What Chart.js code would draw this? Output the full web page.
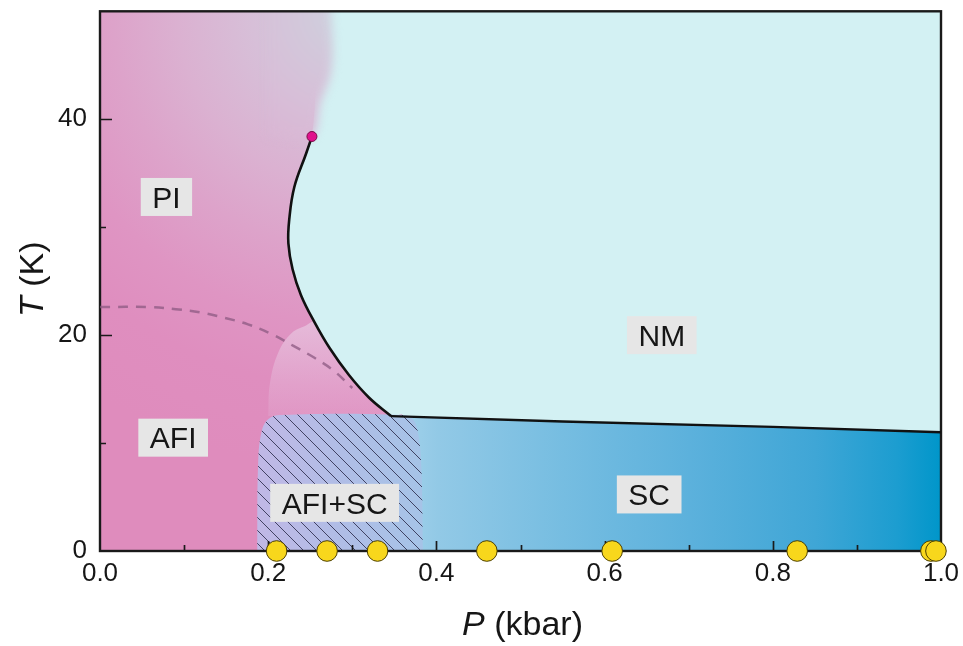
<!DOCTYPE html>
<html>
<head>
<meta charset="utf-8">
<title>P–T phase diagram</title>
<script src="https://cdn.jsdelivr.net/npm/chart.js@4/dist/chart.umd.min.js"></script>
<style>
  html, body { margin: 0; padding: 0; background: #ffffff; }
  #frame { position: relative; width: 963px; height: 646px; }
</style>
</head>
<body>
<div id="frame"><canvas id="phase" width="963" height="646"></canvas></div>
<script>
// ---- axis ranges and tick labels ----
const pLimits = [0, 1];      // pressure, kbar
const tLimits = [0, 50];     // temperature, K
const pTickLabels = ['0.0', '0.2', '0.4', '0.6', '0.8', '1.0'];
const tTickLabels = ['0', '20', '40'];

// PI / NM crossover, from the critical end point down to the Tc plateau
const crossoverP = [0.252, 0.245, 0.231, 0.225, 0.224, 0.229, 0.239, 0.255, 0.273, 0.296, 0.320, 0.346];
const crossoverT = [38.4, 36.8, 33.7, 30.7, 28.5, 26.1, 23.7, 21.2, 18.8, 16.3, 14.2, 12.5];
// diffuse upper edge of the PI region above the critical end point
const piEdgeP = [0.275, 0.275, 0.277, 0.274, 0.262];
const piEdgeT = [55, 50, 46.5, 44, 41.5];
// sharp inner edge of the PI region, hidden under the diffuse one
const piCoreP = [0.25, 0.256];
const piCoreT = [55, 44];
// critical end point
const criticalP = [0.252];
const criticalT = [38.4];
// superconducting transition Tc(P)
const tcP = [0.346, 0.55, 0.8, 1.0];
const tcT = [12.5, 12.0, 11.5, 11.0];
// AFI ordering temperature (dashed)
const neelP = [0, 0.06, 0.09, 0.12, 0.148, 0.176, 0.204, 0.23, 0.255, 0.278, 0.30];
const neelT = [22.6, 22.6, 22.4, 22.1, 21.6, 21.0, 20.1, 19.0, 17.9, 16.7, 15.1];
// AFI+SC coexistence dome
const coexP = [0.187, 0.188, 0.192, 0.2, 0.215, 0.36, 0.372, 0.378, 0.382, 0.384];
const coexT = [0, 8, 11, 12.2, 12.6, 12.6, 12.2, 11, 8, 0];
// lighter PI shoulder just above the coexistence dome
const shoulderP = [0.2, 0.202, 0.212, 0.228, 0.245];
const shoulderT = [12.5, 15.5, 18.4, 20.2, 20.9];
// pressures of the measured samples (markers on the T = 0 axis)
const sampleP = [0.21, 0.27, 0.33, 0.46, 0.609, 0.829, 0.988, 0.994];
const sampleT = [0, 0, 0, 0, 0, 0, 0, 0];
// phase names and where they sit in the diagram
const phaseNames = ['PI', 'AFI', 'AFI+SC', 'NM', 'SC'];
const phaseP = [0.079, 0.087, 0.279, 0.668, 0.653];
const phaseT = [32.8, 10.5, 4.46, 20.0, 5.24];

// ---- helpers ----
const pts = (ps, ts) => ps.map((p, i) => ({ x: p, y: ts[i] }));
const FONT = "'Liberation Sans', Arial, Helvetica, sans-serif";

const nmRegion = [
  { x: pLimits[0], y: tLimits[0] }, { x: pLimits[0], y: tLimits[1] },
  { x: pLimits[1], y: tLimits[1] }, { x: pLimits[1], y: tLimits[0] }
];
const piCoreRegion = [
  { x: pLimits[0], y: tLimits[0] }, { x: pLimits[0], y: piCoreT[0] },
  ...pts(piCoreP, piCoreT),
  ...pts(crossoverP, crossoverT),
  { x: coexP[5], y: tcT[0] }, { x: coexP[5], y: tLimits[0] }
];
const piSoftRegion = [
  { x: 0.2, y: piEdgeT[0] },
  ...pts(piEdgeP, piEdgeT),
  { x: criticalP[0], y: criticalT[0] },
  { x: 0.2, y: criticalT[0] }
];
const shoulderRegion = [
  ...pts(shoulderP, shoulderT),
  ...pts(crossoverP, crossoverT).filter(p => p.y <= 21.5)
];
const scRegion = [
  ...pts(tcP, tcT),
  { x: tcP[tcP.length - 1], y: tLimits[0] }, { x: tcP[0], y: tLimits[0] }
];
const coexRegion = pts(coexP, coexT);

// diagonal hatching for the coexistence dome
function makeHatch() {
  const s = 13;
  const c = document.createElement('canvas');
  c.width = s; c.height = s;
  const g = c.getContext('2d');
  g.strokeStyle = 'rgba(45,45,75,0.85)';
  g.lineWidth = 1;
  g.beginPath();
  g.moveTo(-2, -2); g.lineTo(s + 2, s + 2);
  g.moveTo(-2, s - 2); g.lineTo(2, s + 2);
  g.moveTo(s - 2, -2); g.lineTo(s + 2, 2);
  g.stroke();
  return g.createPattern(c, 'repeat');
}
const hatch = makeHatch();

function piFill(ctx) {
  const chart = ctx.chart;
  if (!chart.chartArea) return '#df8cbd';
  const x = chart.scales.x, y = chart.scales.y;
  const cx = x.getPixelForValue(0.3), cy = y.getPixelForValue(tLimits[1]);
  const g = chart.ctx.createRadialGradient(cx, cy, 0, cx, cy, 460);
  g.addColorStop(0.00, '#ccd4df');
  g.addColorStop(0.10, '#d2c9db');
  g.addColorStop(0.22, '#d7bfd8');
  g.addColorStop(0.38, '#dbb1d1');
  g.addColorStop(0.52, '#dda3ca');
  g.addColorStop(0.68, '#df95c3');
  g.addColorStop(0.82, '#df8ebf');
  g.addColorStop(1.00, '#df8cbd');
  return g;
}
function shoulderFill(ctx) {
  const chart = ctx.chart;
  if (!chart.chartArea) return 'rgba(240,220,238,0.4)';
  const y = chart.scales.y;
  const g = chart.ctx.createLinearGradient(0, y.getPixelForValue(21), 0, y.getPixelForValue(12.5));
  g.addColorStop(0, 'rgba(236,222,238,0.5)');
  g.addColorStop(1, 'rgba(232,205,232,0.15)');
  return g;
}
function scFill(ctx) {
  const chart = ctx.chart;
  if (!chart.chartArea) return '#5cb1dc';
  const x = chart.scales.x;
  const g = chart.ctx.createLinearGradient(x.getPixelForValue(0.35), 0, x.getPixelForValue(1.0), 0);
  g.addColorStop(0.00, '#a4d3eb');
  g.addColorStop(0.08, '#92c9e6');
  g.addColorStop(0.31, '#76bde1');
  g.addColorStop(0.54, '#5cb1dc');
  g.addColorStop(0.77, '#3fa6d6');
  g.addColorStop(0.92, '#1c9dd0');
  g.addColorStop(1.00, '#0096ca');
  return g;
}
function coexFill(ctx) {
  const chart = ctx.chart;
  if (!chart.chartArea) return '#b0bde6';
  const x = chart.scales.x;
  const g = chart.ctx.createLinearGradient(x.getPixelForValue(0.19), 0, x.getPixelForValue(0.38), 0);
  g.addColorStop(0, '#c0b8e6');
  g.addColorStop(0.5, '#b0bde6');
  g.addColorStop(1, '#a6c3e7');
  return g;
}

const region = (data, color, order, tension) => ({
  data, backgroundColor: color, borderColor: 'transparent', borderWidth: 0,
  fill: 'shape', tension, pointRadius: 0, pointHitRadius: 0, order
});

// dataset indices used by the drawing hooks below
const HATCH_INDEX = 5;
const PI_CORE_INDEX = 9;
const PI_SOFT_INDEX = 10;

// the diffuse PI edge is drawn with a blur; frame and inward ticks go on
// once the filled regions are in place
const drawingHooks = {
  id: 'drawingHooks',
  afterDatasetDraw(chart, args) {
    const ctx = chart.ctx;
    if (args.index === PI_CORE_INDEX) { ctx.filter = 'blur(5px)'; return; }
    if (args.index === PI_SOFT_INDEX) { ctx.filter = 'none'; return; }
    if (args.index !== HATCH_INDEX) return;
    const { chartArea: a, scales: { x, y } } = chart;
    ctx.save();
    ctx.strokeStyle = '#1a1a1a';
    ctx.lineWidth = 1.7;
    ctx.beginPath();
    x.ticks.forEach(t => {
      if (t.value <= x.min || t.value >= x.max) return;
      const px = Math.round(x.getPixelForValue(t.value)) + 0.5;
      const len = t.label ? 10 : 6;
      ctx.moveTo(px, a.bottom); ctx.lineTo(px, a.bottom - len);
    });
    y.ticks.forEach(t => {
      if (t.value <= y.min || t.value >= y.max) return;
      const py = Math.round(y.getPixelForValue(t.value)) + 0.5;
      const len = t.label ? 12 : 6;
      ctx.moveTo(a.left, py); ctx.lineTo(a.left + len, py);
    });
    ctx.stroke();
    ctx.lineWidth = 2.4;
    ctx.strokeRect(a.left, a.top, a.right - a.left, a.bottom - a.top);
    ctx.restore();
  }
};

// phase names in light boxes
const phaseLabels = {
  id: 'phaseLabels',
  afterDatasetsDraw(chart) {
    const { ctx, scales: { x, y } } = chart;
    ctx.save();
    ctx.filter = 'none';
    ctx.font = `30px ${FONT}`;
    ctx.textAlign = 'center';
    ctx.textBaseline = 'alphabetic';
    phaseNames.forEach((name, i) => {
      const cx = x.getPixelForValue(phaseP[i]);
      const cy = y.getPixelForValue(phaseT[i]);
      const w = ctx.measureText(name).width + 23;
      const h = 38;
      ctx.fillStyle = '#e6e6e6';
      ctx.fillRect(cx - w / 2, cy - h / 2, w, h);
      ctx.fillStyle = '#161616';
      ctx.fillText(name, cx, cy + 10.7);
    });
    ctx.restore();
  }
};

// axis titles with italic symbols
const axisTitles = {
  id: 'axisTitles',
  afterDraw(chart) {
    const { ctx, chartArea: a } = chart;
    const draw = (sym, rest, cx, cy, rot) => {
      ctx.save();
      ctx.translate(cx, cy);
      ctx.rotate(rot);
      ctx.fillStyle = '#161616';
      ctx.textBaseline = 'alphabetic';
      ctx.textAlign = 'left';
      ctx.font = `italic 34px ${FONT}`;
      const w1 = ctx.measureText(sym).width;
      ctx.font = `34px ${FONT}`;
      const w2 = ctx.measureText(rest).width;
      const start = -(w1 + w2) / 2;
      ctx.font = `italic 34px ${FONT}`;
      ctx.fillText(sym, start, 0);
      ctx.font = `34px ${FONT}`;
      ctx.fillText(rest, start + w1, 0);
      ctx.restore();
    };
    draw('P', ' (kbar)', (a.left + a.right) / 2 + 2, 635, 0);
    draw('T', ' (K)', 43, (a.top + a.bottom) / 2 - 2, -Math.PI / 2);
  }
};

new Chart(document.getElementById('phase'), {
  type: 'line',
  data: {
    datasets: [
      { // measured samples
        data: pts(sampleP, sampleT), showLine: false, fill: false,
        pointRadius: 10.3, pointBackgroundColor: '#f8d71c',
        pointBorderColor: '#4d4000', pointBorderWidth: 1, clip: false, order: 0
      },
      { // critical end point
        data: pts(criticalP, criticalT), showLine: false, fill: false,
        pointRadius: 5, pointBackgroundColor: '#e0128c',
        pointBorderColor: '#7a0a48', pointBorderWidth: 1, order: 1
      },
      { // PI / NM crossover
        data: pts(crossoverP, crossoverT), borderColor: '#111111', borderWidth: 2.6,
        tension: 0.4, pointRadius: 0, fill: false, order: 2
      },
      { // Tc(P)
        data: pts(tcP, tcT), borderColor: '#111111', borderWidth: 2.4,
        tension: 0, pointRadius: 0, fill: false, order: 3
      },
      { // AFI ordering line
        data: pts(neelP, neelT), borderColor: 'rgba(140,90,130,0.75)', borderWidth: 2.5,
        borderDash: [10, 8], tension: 0.4, pointRadius: 0, fill: false, order: 4
      },
      region(coexRegion, hatch, 5, 0.4),          // index 5
      region(coexRegion, coexFill, 6, 0.4),       // index 6
      region(shoulderRegion, shoulderFill, 7, 0.4),
      region(scRegion, scFill, 8, 0),
      region(piCoreRegion, piFill, 9.5, 0.4),     // index 9
      region(piSoftRegion, piFill, 9, 0.3),       // index 10
      region(nmRegion, '#d3f1f3', 10, 0)
    ]
  },
  options: {
    responsive: false,
    animation: false,
    devicePixelRatio: 1,
    events: [],
    layout: { padding: { top: 9, right: 22, left: 0, bottom: 0 } },
    plugins: {
      legend: { display: false },
      tooltip: { enabled: false },
      colors: { enabled: false }
    },
    scales: {
      x: {
        type: 'linear', min: pLimits[0], max: pLimits[1],
        grid: { display: false, drawTicks: false },
        border: { display: false },
        ticks: {
          stepSize: 0.1, autoSkip: false, maxRotation: 0, padding: 7,
          color: '#161616', font: { family: FONT, size: 26 },
          callback: (v, i) => (i % 2 === 0 ? pTickLabels[i / 2] : '')
        },
        afterFit: s => { s.height = 95; s.paddingLeft = 0; s.paddingRight = 0; }
      },
      y: {
        type: 'linear', min: tLimits[0], max: tLimits[1],
        grid: { display: false, drawTicks: false },
        border: { display: false },
        ticks: {
          stepSize: 10, autoSkip: false, padding: 13,
          color: '#161616', font: { family: FONT, size: 26 },
          callback: v => (v % 20 === 0 && v / 20 < tTickLabels.length ? tTickLabels[v / 20] : '')
        },
        afterFit: s => { s.width = 100; s.paddingTop = 0; s.paddingBottom = 0; }
      }
    }
  },
  plugins: [drawingHooks, phaseLabels, axisTitles]
});
</script>
</body>
</html>
